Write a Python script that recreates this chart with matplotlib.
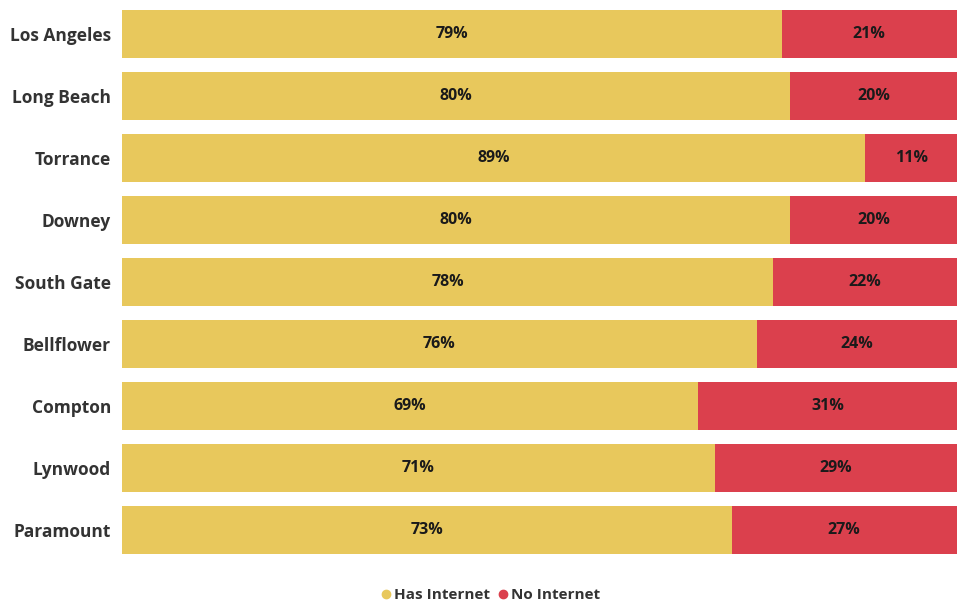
import matplotlib
matplotlib.use("Agg")
import matplotlib.pyplot as plt
import numpy as np
from matplotlib.lines import Line2D

plt.rcParams["font.family"] = ["Open Sans", "DejaVu Sans"]

cities = ["Los Angeles", "Long Beach", "Torrance", "Downey", "South Gate",
          "Bellflower", "Compton", "Lynwood", "Paramount"]
has_internet = [79, 80, 89, 80, 78, 76, 69, 71, 73]
no_internet = [21, 20, 11, 20, 22, 24, 31, 29, 27]

YELLOW = "#E8C85C"
RED = "#DB404D"
TEXT = "#333333"

fig = plt.figure(figsize=(9.57, 6.07), dpi=100)
ax = fig.add_axes([122 / 957, 1 - 561 / 607, 1 - 122 / 957, 558 / 607])

y = np.arange(len(cities))
ax.barh(y, has_internet, height=0.77, color=YELLOW)
ax.barh(y, no_internet, left=has_internet, height=0.77, color=RED)

for i in range(len(cities)):
    h, n = has_internet[i], no_internet[i]
    ax.text(h / 2, i, f"{h}%", ha="center", va="center", fontsize=11.5,
            fontweight="bold", color="#1a1a1a")
    ax.text(h + n / 2, i, f"{n}%", ha="center", va="center", fontsize=11.5,
            fontweight="bold", color="#1a1a1a")

ax.set_xlim(0, 100)
ax.set_ylim(len(cities) - 0.5, -0.5)
ax.set_yticks(y)
ax.set_yticklabels(cities, fontsize=12.5, fontweight="bold", color=TEXT)
ax.set_xticks([])
ax.tick_params(axis="y", length=0, pad=8)
for s in ax.spines.values():
    s.set_visible(False)

handles = [Line2D([], [], marker="o", linestyle="", color=YELLOW, markersize=6),
           Line2D([], [], marker="o", linestyle="", color=RED, markersize=6)]
fig.legend(handles, ["Has Internet", "No Internet"], loc="center",
           bbox_to_anchor=(490 / 957, 1 - 595 / 607), ncol=2, frameon=False,
           handlelength=0.8, handletextpad=0.1, columnspacing=0.5,
           prop={"weight": "bold", "size": 11}, labelcolor=TEXT)

fig.savefig("out.png", dpi=100, facecolor="white")
